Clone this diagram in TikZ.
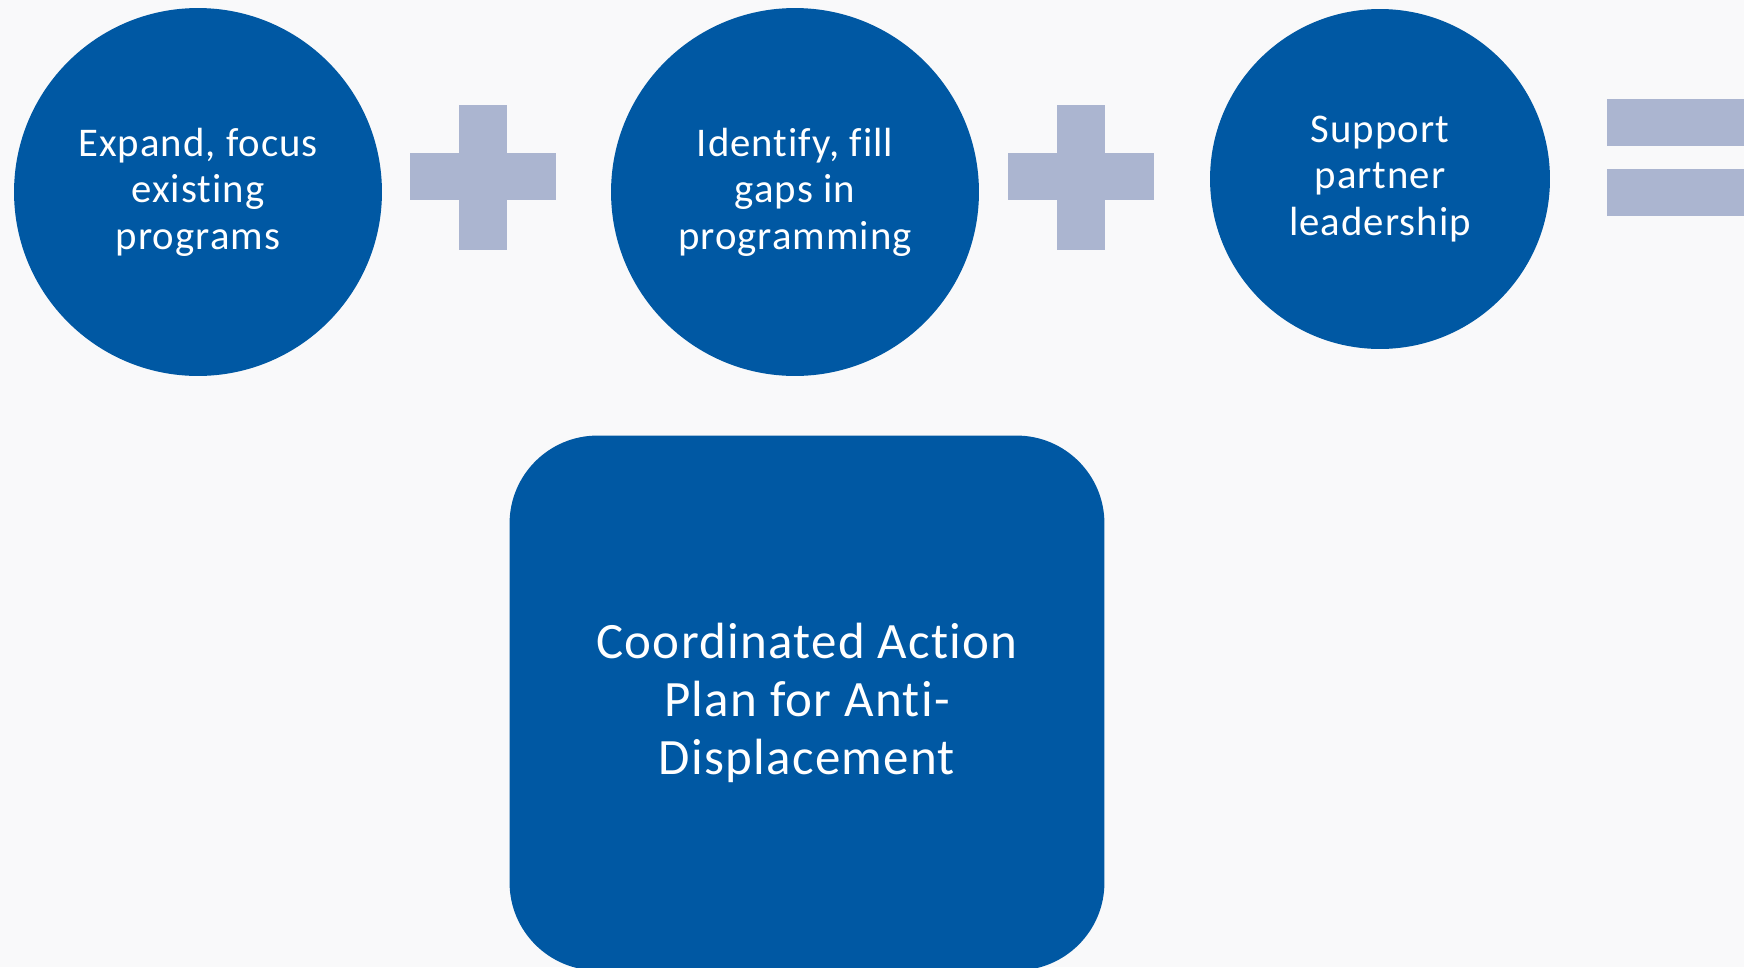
\documentclass[tikz,border=0pt]{standalone}
\usepackage{fontspec}
\setmainfont{Carlito}[Ligatures=NoCommon, LetterSpace=2.5]
\usepackage{xcolor}
\usetikzlibrary{positioning}

\definecolor{planblue}{HTML}{0058A3}
\definecolor{signgray}{HTML}{ABB5D0}
\definecolor{pagebg}{HTML}{F9F9FA}

\tikzset{
    step circle/.style={circle, fill=planblue, inner sep=0pt, text=white, align=center,
        font=\fontsize{23.2}{26.5}\selectfont},
    plan box/.style={rectangle, rounded corners=1.76cm, fill=planblue, inner sep=0pt, text=white,
        align=center, minimum width=11.9cm, minimum height=10.7cm,
        font=\fontsize{29}{33}\selectfont},
    sign/.style={fill=signgray}
}

\begin{document}
\begin{tikzpicture}[x=0.02cm, y=-0.02cm]
    % Page
    \clip (0,0) rectangle (1744,967);
    \fill[pagebg] (0,0) rectangle (1744,967);

    % Three steps
    \node[step circle, minimum size=7.36cm] (expand) at (198,192) {Expand, focus\\existing\\programs};
    \node[step circle, minimum size=7.36cm] (identify) at (795,192) {Identify, fill\\gaps in\\programming};
    \node[step circle, minimum size=6.8cm] (support) at (1380,179) {Support\\partner\\leadership};

    % Plus signs
    \foreach \cx in {483,1081} {
        \fill[sign] (\cx-73,153) rectangle (\cx+73,200);
        \fill[sign] (\cx-24,105) rectangle (\cx+24,250);
    }

    % Equals sign
    \fill[sign] (1607,99) rectangle (1744,146);
    \fill[sign] (1607,169) rectangle (1744,216);

    % Result
    \node[plan box] (plan) at (807,703) {Coordinated Action\\Plan for Anti-\\Displacement};
\end{tikzpicture}
\end{document}
